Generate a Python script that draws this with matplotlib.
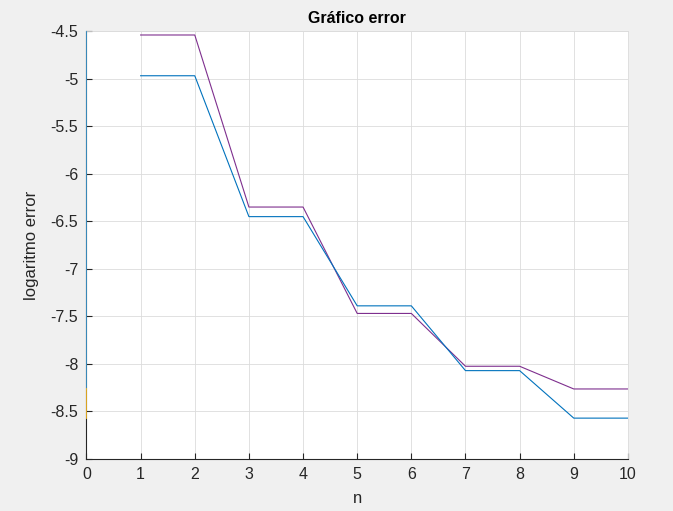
import matplotlib
matplotlib.use("Agg")
import matplotlib.pyplot as plt

plt.rcParams['font.family'] = ['Liberation Sans', 'DejaVu Sans']

n = [1, 2, 3, 4, 5, 6, 7, 8, 9, 10]
err_purple = [-4.537, -4.537, -6.348, -6.348, -7.468, -7.468, -8.024, -8.024, -8.263, -8.263]
err_blue = [-4.966, -4.966, -6.449, -6.449, -7.388, -7.388, -8.070, -8.070, -8.570, -8.570]
# vertical segments at n = 0
edge_x = [0, 0]
edge_lightblue = [-4.0, -8.263]
edge_yellow = [-8.263, -8.570]

xticks = list(range(0, 11))
yticks = [-9, -8.5, -8, -7.5, -7, -6.5, -6, -5.5, -5, -4.5]
ytick_labels = ['-9', '-8.5', '-8', '-7.5', '-7', '-6.5', '-6', '-5.5', '-5', '-4.5']

fig = plt.figure(figsize=(6.73, 5.11), dpi=100, facecolor='#F0F0F0')
ax = fig.add_axes([0.1285, 0.1018, 0.8045, 0.8366])
ax.set_facecolor('white')

ax.plot(n, err_purple, color='#7E2F8E', lw=0.8, zorder=3)
ax.plot(n, err_blue, color='#0072BD', lw=0.8, zorder=3)
ax.plot(edge_x, edge_lightblue, color='#3A93C8', lw=1.3, zorder=4, clip_on=True)
ax.plot(edge_x, edge_yellow, color='#EDB120', lw=1.3, zorder=4, clip_on=True)

ax.set_xlim(0, 10)
ax.set_ylim(-9, -4.5)
ax.set_xticks(xticks)
ax.set_yticks(yticks)
ax.set_yticklabels(ytick_labels)

ax.grid(True, color='#DCDCDC', lw=0.6)
ax.set_axisbelow(True)
for s in ['top', 'right']:
    ax.spines[s].set_color('#DCDCDC')
    ax.spines[s].set_linewidth(0.6)
for s in ['left', 'bottom']:
    ax.spines[s].set_color('#262626')
    ax.spines[s].set_linewidth(0.8)
ax.tick_params(direction='in', length=4, width=0.8, color='#262626',
               labelsize=11.5, labelcolor='#262626', pad=6,
               top=False, right=False)

ax.set_title('Gráfico error', fontsize=11.5, fontweight='bold', color='black', pad=6)
ax.set_xlabel('n', fontsize=12, color='#262626', labelpad=6)
ax.set_ylabel('logaritmo error', fontsize=12, color='#262626', labelpad=8)

fig.savefig('out.png', dpi=100, facecolor=fig.get_facecolor())
